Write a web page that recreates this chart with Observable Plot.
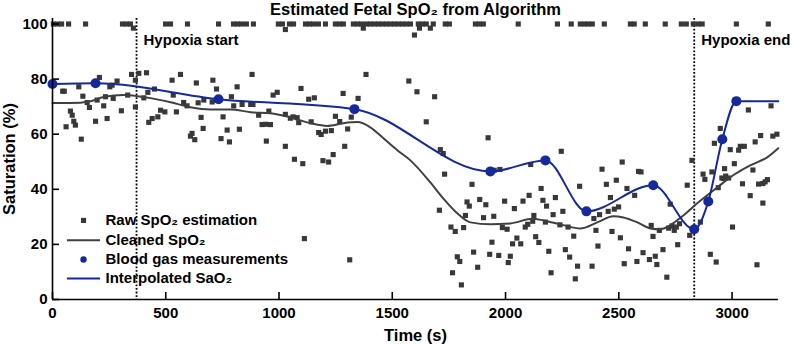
<!DOCTYPE html>
<html>
<head>
<meta charset="utf-8">
<script src="https://cdn.jsdelivr.net/npm/d3@7"></script>
<script src="https://cdn.jsdelivr.net/npm/@observablehq/plot@0.6"></script>
<style>
  html, body { margin: 0; padding: 0; background: #fff; }
  #chart svg { font-family: "Liberation Sans", Arial, Helvetica, sans-serif; font-weight: bold; }
</style>
</head>
<body>
<div id="chart"></div>
<script>
// Raw per-window SpO2 estimates from the algorithm (time in s, saturation in %)
const rawTime = [
  // estimates clipped at (or near) 100 %
  4,22,40,71,146,309,327,344,357,499,
  521,596,733,799,816,834,856,887,997,1015,
  1028,1046,1064,1117,1134,1152,1174,1205,1249,1267,
  1284,1328,1346,1364,1372,1386,1403,1421,1439,1456,
  1474,1492,1509,1527,1545,1562,1580,1598,1615,1620,
  1633,1650,1668,1681,1734,1752,1867,1884,1902,2056,
  2229,2290,2330,2348,2365,2383,2436,2551,2568,2617,
  2705,2776,2798,2829,2851,2868,3019,3160,
  // baseline and early hypoxia
  45,52,60,79,87,94,101,116,127,134,
  153,163,190,197,207,226,234,241,253,263,
  268,285,304,332,349,366,366,381,403,415,
  421,425,440,450,465,477,496,528,533,547,
  565,579,594,609,616,628,635,643,656,665,
  668,705,708,724,744,753,771,781,790,800,
  815,825,837,875,881,885,910,925,940,944,
  955,962,974,992,1028,1028,1050,1062,1068,1080,
  1087,1097,1105,1112,1131,1142,1156,1175,1186,1194,
  1205,1219,1231,1239,1249,1268,1283,1290,1303,1312,
  1319,1349,1384,1573,1609,1650,1687,1712,1725,1923,
  // deep hypoxia and recovery
  1708,1731,1759,1766,1778,1787,1798,1805,1815,1823,
  1830,1840,1852,1859,1877,1886,1903,1913,1930,1940,
  1948,1950,1970,1975,1986,1996,2007,2012,2021,2031,
  2039,2050,2067,2077,2087,2098,2104,2111,2120,2125,
  2133,2147,2157,2165,2176,2181,2191,2201,2210,2220,
  2240,2246,2253,2264,2276,2283,2301,2308,2318,2327,
  2382,2390,2399,2408,2415,2426,2445,2453,2463,2470,
  2480,2489,2499,2507,2515,2524,2536,2543,2570,2580,
  2587,2598,2607,2635,2643,2651,2661,2668,2679,2695,
  2712,2720,2727,2735,2745,2754,2760,2768,2802,2813,
  2823,2860,2872,2880,2904,2911,2922,2930,2939,2948,
  2955,2963,2967,2972,2985,2992,3002,3010,3029,3036,
  3046,3054,3072,3080,3092,3102,3110,3117,3126,3136,
  3136,3146,3156,3172,3180,3198
];
const rawSpO2 = [
  100,100,100,100,100,100,100,100,98.5,100,
  100,100,100,100,100,100,100,100,100,100,
  98,100,100,100,100,100,100,100,100,100,
  100,100,100,100,98.5,100,100,100,100,100,
  100,100,100,100,100,100,100,96,100,98.5,
  100,100,98.5,100,100,100,100,100,100,100,
  100,100,100,100,100,100,100,100,100,100,
  100,100,100,100,100,100,100,100,
  75.6,75.6,62.7,68.4,66.9,64.7,63.3,77.2,58.2,73.8,
  71.5,69.7,64.7,72.4,80.6,70.3,73.6,65.7,77.2,77.8,
  73,79.3,68.5,74.2,81.7,79.6,69.9,82.1,73.2,82.3,
  75.2,64.3,65.7,76.4,66.3,68.7,68.1,79.6,74.2,68.1,
  81.7,71.5,70.3,59.3,60.3,58,78.6,71.4,66.1,62.1,
  72.4,71.7,79.6,76.4,58.4,66.3,61.5,57.2,73.6,70.3,
  77.2,61.8,70.8,70.8,81.7,70.8,66.9,63.5,63.6,57.5,
  68.4,63.5,74.2,75.2,67.2,55.6,65.8,66.3,50.9,66,
  64.2,76.6,49.3,22.1,72.7,64.5,73.2,60.6,59.9,50.4,
  61.1,49.9,61.3,52.6,66.5,64.6,74.8,55.6,61.9,14.4,
  66.2,73,81.7,79.3,75.4,64.5,73.6,54.4,53,58.7,
  32.4,45.5,26.3,9.7,24.7,15.5,13.8,5.3,26.1,30.5,
  35.4,33.9,41.8,17.2,11.7,36.3,29.7,34.4,16.4,20.8,
  30.2,46.9,16,47.2,26.1,35.7,25.5,13.4,15.7,20.2,
  33,22.3,20.2,35.7,26.3,27.3,37.8,49,28.4,30.5,
  22.8,20.7,40.3,36,28.1,33.9,17.5,9.7,30.8,37,
  27.1,53.8,32,18.1,26.3,15.4,23,7.5,12.1,41.1,
  12.1,29.4,25.1,19.4,30.8,47.3,41.8,32,37,24.7,
  32.8,43.3,33.6,22.4,49.9,13,40.3,18.4,37.8,13.8,
  46.5,46.3,17,14.5,26.9,22.9,15.7,12.7,25.1,18.1,
  8.1,25.9,34.6,26.7,25.1,26.3,19.9,27.5,41.5,23.3,
  50.5,28.1,45.5,43.6,16.4,46.3,56.7,13.6,40.6,62.1,
  44.1,43.9,47.5,44.8,44.1,54.4,26.3,49.3,54.2,55.6,
  42,55.6,68.8,37.7,47,57.2,12.6,41.9,59.5,42.1,
  35,42.7,43.5,70.3,59.3,60
];

// Cleaned SpO2 trace
const cleanTime = [0,79,168,225,313,375,432,521,609,697,786,874,962,1050,1139,1213,1284,1346,1403,1461,1522,1580,1668,1725,1787,1845,1933,2021,2120,2167,2255,2330,2405,2476,2520,2582,2639,2683,2727,2785,2846,2935,3005,3080,3155,3204];
const cleanSpO2 = [71.3,71.3,72,73.5,74.2,73.8,73.1,71.6,69.8,69,69,68,67.6,66.1,64,63,64,64.4,62.5,58.5,54.2,50.5,42.5,36.7,31.3,28,27.3,27.6,29.3,28.7,27,25.8,28,30.2,29.8,28,25.8,25.5,27,30.5,34.9,40.7,45.1,48.7,51.6,54.9];

// Arterial blood gas samples
const gasTime = [0,190,733,1333,1933,2176,2357,2652,2833,2895,2957,3019];
const gasSaO2 = [78.2,78.5,72.7,69.1,46.5,50.5,32,41.5,25.5,35.6,58.2,72];
const sao2HoldUntil = 3204; // last sample held to the end of the record

// Hypoxia window
const eventTime = [371, 2833];
const eventLabel = ["Hypoxia start", "Hypoxia end"];

const xTicks = [0, 500, 1000, 1500, 2000, 2500, 3000];
const yTicks = [0, 20, 40, 60, 80, 100];

const legendLabels = ["Raw SpO\u2082 estimation", "Cleaned SpO\u2082", "Blood gas measurements", "Interpolated SaO\u2082"];

// ---- build tables ----
const raw = rawTime.map((t, i) => ({t, v: rawSpO2[i]}));
const clean = cleanTime.map((t, i) => ({t, v: cleanSpO2[i]}));
const gas = gasTime.map((t, i) => ({t, v: gasSaO2[i]}));
const sao2 = [...gas, {t: sao2HoldUntil, v: gasSaO2[gasSaO2.length - 1]}];
const events = eventTime.map((t, i) => ({t, label: eventLabel[i]}));

const GREY = "#383838";
const BLUE = "#16299a";
const FS = 15;      // tick, legend and annotation text
const FS_BIG = 16.5; // title and axis titles

// legend layout, in data units (bottom-left corner of the frame)
const legX0 = 66, legX1 = 212, legMark = 137, legText = 234;
const legRows = [28.7, 21.5, 14.5, 7.6];
const legend = legendLabels.map((label, i) => ({label, y: legRows[i]}));

const chart = Plot.plot({
  width: 792,
  height: 345,
  marginLeft: 52,
  marginRight: 14,
  marginTop: 18,
  marginBottom: 46,
  style: {fontSize: FS + "px", fontWeight: "bold", color: "#000", background: "#fff"},
  x: {domain: [0, 3205], ticks: xTicks},
  y: {domain: [0, 102], ticks: yTicks},
  marks: [
    // hypoxia markers
    Plot.ruleX(events, {x: "t", stroke: "#000", strokeWidth: 1.8, strokeDasharray: "1.8,1.8"}),
    Plot.text(events, {x: "t", y: 94, text: "label", textAnchor: "start", dx: 7, fontSize: FS, fontWeight: "bold", fill: "#000"}),

    // raw estimates
    Plot.dot(raw, {x: "t", y: "v", symbol: "square", r: 2.9, fill: GREY, stroke: null}),

    // cleaned trace
    Plot.line(clean, {x: "t", y: "v", curve: "monotone-x", stroke: "#404040", strokeWidth: 2}),

    // interpolated SaO2 and blood gas samples
    Plot.line(sao2, {x: "t", y: "v", curve: "monotone-x", stroke: BLUE, strokeWidth: 2}),
    Plot.dot(gas, {x: "t", y: "v", r: 5, fill: BLUE, stroke: null}),

    // axes
    Plot.ruleY([0], {stroke: "#000", strokeWidth: 1.6}),
    Plot.ruleX([0], {stroke: "#000", strokeWidth: 1.6}),
    Plot.axisX({ticks: xTicks, tickFormat: d3.format("d"), tickSize: -7, tickPadding: 15, strokeWidth: 1.6, label: null, fontSize: FS}),
    Plot.axisY({ticks: yTicks, tickFormat: d3.format("d"), tickSize: -7, tickPadding: 12, strokeWidth: 1.6, label: null, fontSize: FS}),
    Plot.text(["Time (s)"], {frameAnchor: "bottom", textAnchor: "middle", lineAnchor: "middle", dy: 36, fontSize: FS_BIG, fontWeight: "bold", fill: "#000"}),
    Plot.text(["Saturation (%)"], {frameAnchor: "left", textAnchor: "middle", lineAnchor: "middle", dx: -43, rotate: -90, fontSize: FS_BIG, fontWeight: "bold", fill: "#000"}),
    Plot.text(["Estimated Fetal SpO\u2082 from Algorithm"], {frameAnchor: "top", textAnchor: "middle", lineAnchor: "middle", dy: -9, fontSize: FS_BIG, fontWeight: "bold", fill: "#000"}),

    // legend
    Plot.dot([legend[0]], {x: legMark, y: "y", symbol: "square", r: 2.9, fill: GREY, stroke: null}),
    Plot.ruleY([legend[1]], {x1: legX0, x2: legX1, y: "y", stroke: "#404040", strokeWidth: 2}),
    Plot.dot([legend[2]], {x: legMark, y: "y", r: 3.2, fill: BLUE, stroke: null}),
    Plot.ruleY([legend[3]], {x1: legX0, x2: legX1, y: "y", stroke: BLUE, strokeWidth: 2}),
    Plot.text(legend, {x: legText, y: "y", text: "label", textAnchor: "start", fontSize: FS, fontWeight: "bold", fill: "#000"})
  ]
});

document.getElementById("chart").appendChild(chart);
</script>
</body>
</html>
